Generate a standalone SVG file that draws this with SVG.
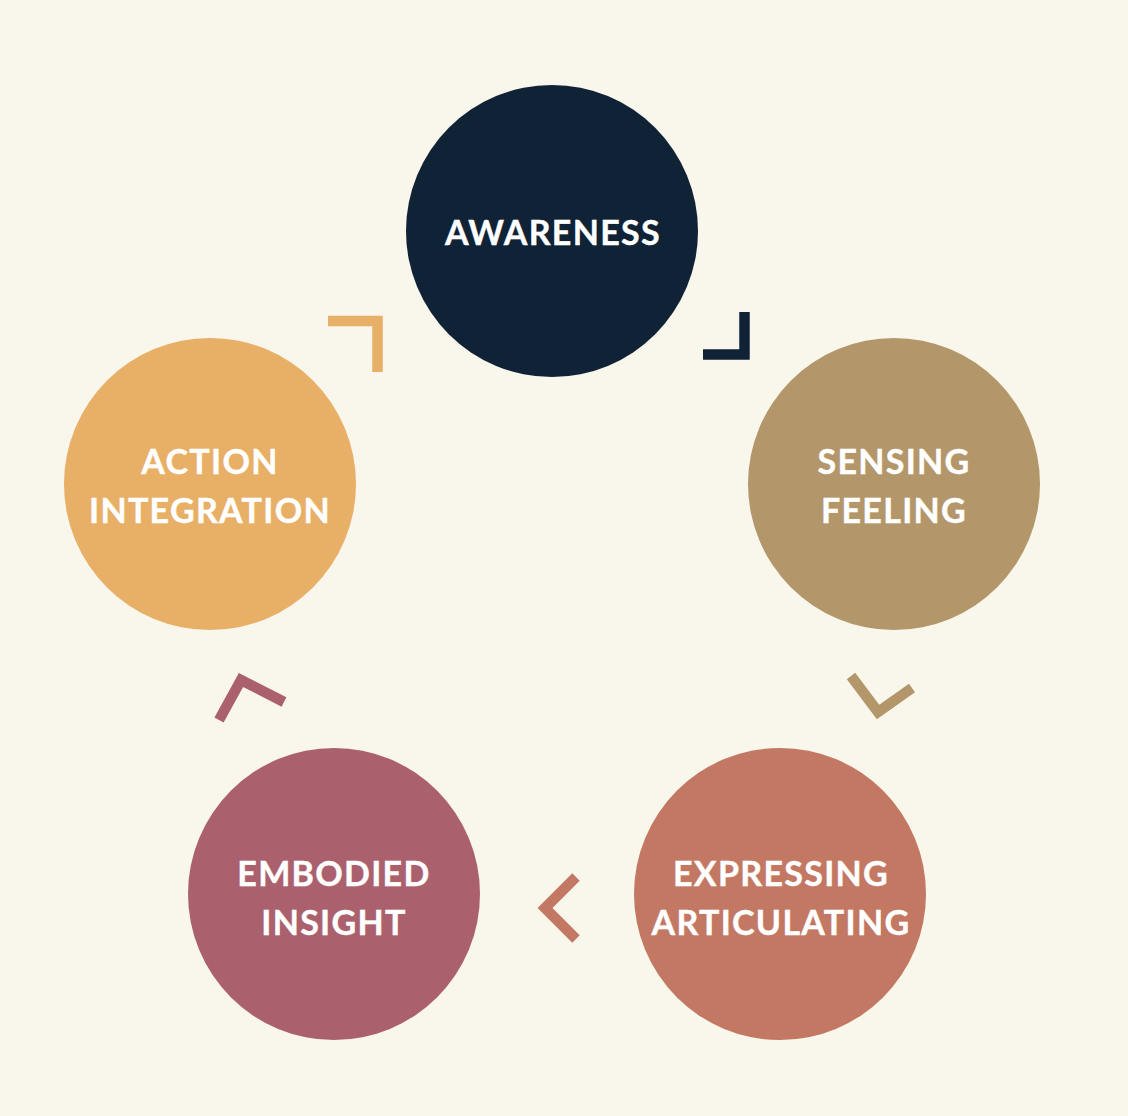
<svg xmlns="http://www.w3.org/2000/svg" width="1128" height="1116" viewBox="0 0 1128 1116">
<style>
.lbl{font-family:Lato,"Liberation Sans",sans-serif;font-weight:bold;font-size:34px;fill:#ffffff;stroke:#ffffff;stroke-width:0.4;text-anchor:middle;letter-spacing:1.3px}
.chev{fill:none;stroke-width:10.5;stroke-linejoin:miter;stroke-linecap:butt}
</style>
<rect width="1128" height="1116" fill="#f9f6ec"/>
<g id="awareness"><circle cx="552" cy="231" r="146" fill="#102236"/><text class="lbl" x="553" y="245">AWARENESS</text></g>
<g id="sensing"><circle cx="894" cy="484" r="146" fill="#b3976a"/><text class="lbl" x="894" y="474">SENSING</text><text class="lbl" x="894" y="523">FEELING</text></g>
<g id="expressing"><circle cx="780" cy="894" r="146" fill="#c27862"/><text class="lbl" x="781" y="886">EXPRESSING</text><text class="lbl" x="781" y="935">ARTICULATING</text></g>
<g id="embodied"><circle cx="334" cy="894" r="146" fill="#ab616d"/><text class="lbl" x="334" y="886">EMBODIED</text><text class="lbl" x="334" y="935">INSIGHT</text></g>
<g id="action"><circle cx="210" cy="484" r="146" fill="#e8af66"/><text class="lbl" x="210" y="474">ACTION</text><text class="lbl" x="210" y="523">INTEGRATION</text></g>
<g id="connectors">
<polyline class="chev" stroke="#102236" points="744.5,312 744.5,354.5 703,354.5"/>
<polyline class="chev" stroke="#b3976a" points="851,676 878,712 912,688"/>
<polyline class="chev" stroke="#c27862" points="576,877 545,908 576,939"/>
<polyline class="chev" stroke="#ab616d" points="219,720 241,680 284,702"/>
<polyline class="chev" stroke="#e8af66" points="328,321 377.5,321 377.5,372"/>
</g>
</svg>
